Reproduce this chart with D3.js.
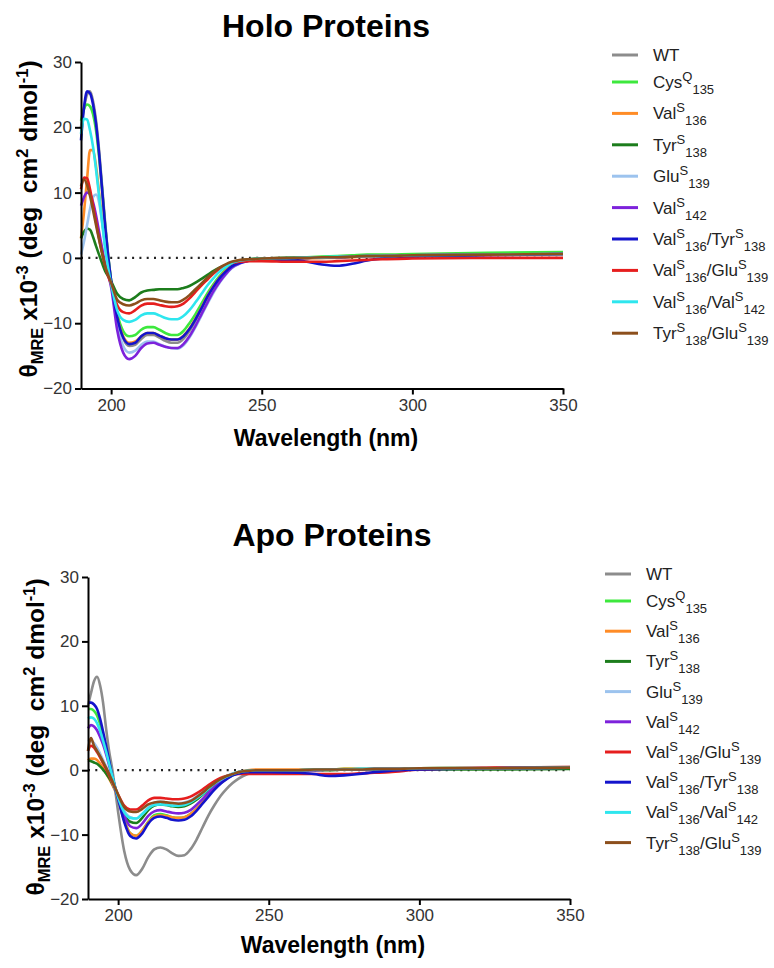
<!DOCTYPE html>
<html>
<head>
<meta charset="utf-8">
<script src="https://cdn.jsdelivr.net/npm/d3@7"></script>
<style>
  body { margin: 0; background: #fff; }
  text { font-family: "Liberation Sans", Arial, sans-serif; }
</style>
</head>
<body>
<div id="chart"></div>
<script>
// wavelengths (nm) where the curves were sampled
const wavelengths = [190, 191, 192, 193, 194, 195, 196, 197, 198, 199, 200,
  202, 204, 206, 208, 210, 212, 214, 216, 218, 220, 222, 224, 226, 228, 230,
  232, 234, 236, 238, 240, 243, 246, 250, 260, 265, 270, 275, 280, 285, 290,
  300, 325, 350];

const xTicks = [200, 250, 300, 350];
const yTicks = [-20, -10, 0, 10, 20, 30];

// holo proteins
const holoWT = [20, 23, 25, 25.5, 24, 21, 16.5, 11, 5.5, 0.5, -3.5, -9, -12.3, -13.5, -13.3, -12.4, -11.8, -11.8, -12.2, -12.7, -13, -13, -12.4, -11.2, -9.6, -7.8, -6, -4.4, -3.1, -2.1, -1.3, -0.6, -0.3, -0.2, -0.1, 0, 0, 0.1, 0.2, 0.2, 0.3, 0.4, 0.5, 0.7];
const holoCys135 = [21, 22.8, 23.5, 23.2, 22, 19.5, 15.5, 10.5, 5, 0.3, -3.5, -8.5, -11.2, -12, -11.8, -11, -10.6, -10.6, -11, -11.5, -11.8, -11.8, -11.2, -10, -8.6, -7, -5.4, -4, -2.8, -1.8, -1.1, -0.5, -0.2, -0.1, 0, 0.1, 0.2, 0.3, 0.4, 0.5, 0.5, 0.6, 0.8, 0.9];
const holoVal136 = [3, 7, 12, 16.5, 16.5, 14, 10, 6, 2, -1, -3.8, -9, -12, -13, -12.8, -12, -11.5, -11.5, -11.9, -12.3, -12.5, -12.5, -11.9, -10.8, -9.3, -7.6, -5.8, -4.3, -3, -2, -1.2, -0.6, -0.4, -0.3, -0.2, -0.1, 0, 0, 0.1, 0.2, 0.3, 0.4, 0.5, 0.6];
const holoTyr138 = [3, 4, 4.5, 4.3, 3.2, 1.8, 0.5, -0.8, -2, -2.8, -3.6, -5.5, -6.3, -6.5, -6, -5.3, -5, -4.9, -4.8, -4.8, -4.8, -4.8, -4.6, -4.3, -3.8, -3.2, -2.6, -2, -1.5, -1.1, -0.7, -0.4, -0.2, -0.1, 0, 0, 0.1, 0.1, 0.2, 0.3, 0.3, 0.4, 0.5, 0.6];
const holoGlu139 = [0.5, 2.5, 5, 7.5, 9.3, 9.7, 8.5, 5.5, 2, -1, -4, -10, -13.5, -14.5, -14.2, -13.3, -12.8, -12.8, -13.2, -13.6, -13.8, -13.9, -13.4, -12.2, -10.6, -8.8, -7, -5.3, -3.8, -2.6, -1.6, -0.8, -0.4, -0.2, -0.1, 0, 0.1, 0.1, 0.2, 0.3, 0.3, 0.4, 0.5, 0.6];
const holoVal142 = [8, 9.3, 10, 9.8, 8.5, 6.5, 4, 1.5, -0.8, -2.5, -4.5, -11, -14.5, -15.5, -15, -13.8, -13.1, -13, -13.3, -13.6, -13.8, -13.8, -13.2, -12, -10.4, -8.6, -6.8, -5.1, -3.7, -2.5, -1.5, -0.8, -0.4, -0.2, -0.1, 0, 0.1, 0.1, 0.2, 0.3, 0.3, 0.4, 0.5, 0.6];
const holoVal136Tyr138 = [18, 23, 25.5, 25.2, 23.5, 20.5, 16, 10.5, 5, 0.3, -3.5, -9, -12.2, -13.2, -13, -12, -11.5, -11.5, -11.9, -12.3, -12.5, -12.5, -12, -10.9, -9.4, -7.7, -5.9, -4.4, -3.1, -2.1, -1.3, -0.7, -0.4, -0.3, -0.3, -0.6, -1, -1.2, -0.9, -0.4, -0.1, 0.2, 0.4, 0.6];
const holoVal136Glu139 = [10.5, 12.3, 12.2, 10.5, 8, 5.5, 3, 0.8, -1.2, -2.8, -4, -7.2, -8.3, -8.5, -8, -7.3, -7, -7, -7.2, -7.4, -7.5, -7.4, -7, -6.2, -5.2, -4.2, -3.3, -2.4, -1.7, -1.2, -0.8, -0.6, -0.5, -0.5, -0.6, -0.6, -0.6, -0.5, -0.4, -0.3, -0.2, -0.1, 0, 0];
const holoVal136Val142 = [19, 21.3, 21.2, 19.5, 17, 13.5, 9.5, 5.5, 1.5, -1.5, -4, -8, -9.5, -9.8, -9.5, -8.8, -8.5, -8.5, -8.8, -9.2, -9.4, -9.4, -8.9, -8, -6.8, -5.5, -4.2, -3.1, -2.1, -1.4, -0.8, -0.4, -0.2, -0.1, 0, 0.1, 0.1, 0.2, 0.2, 0.3, 0.3, 0.4, 0.5, 0.6];
const holoTyr138Glu139 = [11, 12, 11.2, 9.5, 7.3, 5, 2.8, 0.7, -1.2, -2.6, -3.8, -6.4, -7.1, -7.3, -7, -6.5, -6.3, -6.3, -6.5, -6.7, -6.8, -6.8, -6.4, -5.7, -4.8, -3.9, -3, -2.2, -1.5, -1, -0.6, -0.3, -0.2, -0.1, 0, 0, 0.1, 0.1, 0.2, 0.3, 0.3, 0.4, 0.5, 0.6];

// apo proteins
const apoWT = [10, 12, 13.8, 14.5, 13.2, 10.5, 6.5, 3, 0.3, -3, -6.5, -12.5, -15.5, -16.3, -15.3, -13.5, -12.3, -12, -12.3, -12.9, -13.3, -13.2, -12.3, -10.8, -8.9, -7, -5.4, -4, -2.9, -2, -1.3, -0.6, -0.3, -0.1, 0, 0.1, 0.1, 0.1, 0.2, 0.2, 0.3, 0.3, 0.4, 0.5];
const apoCys135 = [9.5, 9.5, 9.2, 8.5, 7.2, 5.5, 3.5, 1.3, -0.8, -2.7, -4.3, -7.7, -9.8, -10.2, -9.4, -8, -7, -6.8, -7, -7.3, -7.4, -7.3, -6.8, -6, -5, -3.9, -2.9, -2, -1.3, -0.8, -0.4, -0.2, -0.1, 0, 0, 0.1, 0.1, 0.2, 0.2, 0.2, 0.3, 0.3, 0.4, 0.4];
const apoVal136 = [1.5, 1.8, 1.8, 1.6, 1, 0.3, -0.5, -1.3, -2.2, -3.2, -4.5, -7.8, -9.8, -10.2, -9.4, -8.1, -7.2, -7, -7.1, -7.3, -7.4, -7.3, -6.8, -6, -5, -3.9, -2.9, -2, -1.3, -0.7, -0.3, 0, 0.1, 0.1, 0.1, 0.1, 0.1, 0.2, 0.2, 0.2, 0.3, 0.3, 0.4, 0.4];
const apoTyr138 = [1.5, 1.4, 1.2, 1, 0.6, 0.1, -0.5, -1.2, -2, -3, -4.2, -6.8, -8, -8.2, -7.4, -6.2, -5.5, -5.3, -5.4, -5.6, -5.7, -5.6, -5.2, -4.6, -3.8, -3, -2.2, -1.5, -1, -0.6, -0.3, -0.1, 0, 0, 0, 0, 0, 0.1, 0.1, 0.1, 0.1, 0.1, 0.1, 0.2];
const apoGlu139 = [4.5, 4.6, 4.2, 3.5, 2.6, 1.6, 0.6, -0.6, -1.8, -3, -4.2, -6.3, -7.3, -7.5, -6.8, -5.8, -5.1, -4.9, -5, -5.1, -5.1, -5, -4.7, -4.1, -3.4, -2.7, -2, -1.4, -0.9, -0.5, -0.3, -0.1, 0, 0, 0, 0.1, 0.1, 0.1, 0.2, 0.2, 0.2, 0.3, 0.4, 0.4];
const apoVal142 = [6.5, 7, 6.8, 6.2, 5.2, 4, 2.5, 0.8, -0.9, -2.6, -4.2, -7, -8.7, -9, -8.3, -7.1, -6.4, -6.2, -6.4, -6.6, -6.7, -6.6, -6.2, -5.4, -4.5, -3.5, -2.6, -1.8, -1.2, -0.7, -0.4, -0.2, -0.1, 0, 0, 0, 0.1, 0.1, 0.1, 0.2, 0.2, 0.3, 0.3, 0.4];
const apoVal136Glu139 = [3, 3.8, 3.5, 2.8, 2, 1.1, 0.2, -0.8, -1.8, -2.8, -3.8, -5.5, -6.1, -6.1, -5.5, -4.7, -4.3, -4.3, -4.4, -4.5, -4.5, -4.4, -4.1, -3.6, -3, -2.3, -1.7, -1.2, -0.9, -0.7, -0.6, -0.6, -0.6, -0.6, -0.6, -0.6, -0.6, -0.6, -0.5, -0.4, -0.3, 0.1, 0.4, 0.5];
const apoVal136Tyr138 = [10.5, 10.5, 10.2, 9.5, 8, 6, 3.8, 1.5, -0.8, -2.8, -4.5, -8, -10.2, -10.6, -9.8, -8.3, -7.4, -7.2, -7.4, -7.7, -7.8, -7.7, -7.2, -6.3, -5.2, -4.1, -3, -2.1, -1.4, -0.8, -0.5, -0.3, -0.3, -0.3, -0.4, -0.6, -0.9, -0.8, -0.6, -0.3, -0.1, 0.1, 0.3, 0.4];
const apoVal136Val142 = [8, 8.2, 8, 7.3, 6.1, 4.6, 2.9, 1, -0.8, -2.6, -4.2, -6.5, -7.4, -7.5, -6.8, -5.9, -5.4, -5.3, -5.4, -5.5, -5.5, -5.4, -5, -4.4, -3.7, -2.9, -2.1, -1.5, -1, -0.6, -0.3, -0.1, 0, 0, 0, 0.1, 0.1, 0.1, 0.2, 0.2, 0.2, 0.3, 0.3, 0.4];
const apoTyr138Glu139 = [3, 5, 3.8, 3, 2.2, 1.3, 0.4, -0.6, -1.6, -2.7, -3.8, -5.7, -6.4, -6.5, -6, -5.3, -5, -4.9, -5, -5.1, -5.2, -5.1, -4.8, -4.2, -3.5, -2.7, -2, -1.4, -0.9, -0.6, -0.3, -0.1, 0, 0, 0, 0.1, 0.1, 0.1, 0.1, 0.2, 0.2, 0.3, 0.3, 0.4];

// legend labels: ^{..} = superscript, _{..} = subscript
const holoLabels = ["WT", "Cys^{Q}_{135}", "Val^{S}_{136}", "Tyr^{S}_{138}", "Glu^{S}_{139}", "Val^{S}_{142}",
  "Val^{S}_{136}/Tyr^{S}_{138}", "Val^{S}_{136}/Glu^{S}_{139}", "Val^{S}_{136}/Val^{S}_{142}", "Tyr^{S}_{138}/Glu^{S}_{139}"];
const apoLabels = ["WT", "Cys^{Q}_{135}", "Val^{S}_{136}", "Tyr^{S}_{138}", "Glu^{S}_{139}", "Val^{S}_{142}",
  "Val^{S}_{136}/Glu^{S}_{139}", "Val^{S}_{136}/Tyr^{S}_{138}", "Val^{S}_{136}/Val^{S}_{142}", "Tyr^{S}_{138}/Glu^{S}_{139}"];

const holoSeries = [holoWT, holoCys135, holoVal136, holoTyr138, holoGlu139, holoVal142,
  holoVal136Tyr138, holoVal136Glu139, holoVal136Val142, holoTyr138Glu139];
const apoSeries = [apoWT, apoCys135, apoVal136, apoTyr138, apoGlu139, apoVal142,
  apoVal136Glu139, apoVal136Tyr138, apoVal136Val142, apoTyr138Glu139];

const holoColors = ["#8c8c8c", "#3de83d", "#ff8c26", "#1c7d1c", "#9cc3ee", "#7d22db",
  "#1414cc", "#e61e1e", "#2ee6ee", "#8c4f1c"];
const apoColors = ["#8c8c8c", "#3de83d", "#ff8c26", "#1c7d1c", "#9cc3ee", "#7d22db",
  "#e61e1e", "#1414cc", "#2ee6ee", "#8c4f1c"];

const svg = d3.select("#chart").append("svg")
  .attr("width", 774)
  .attr("height", 968);

// turn "Val^{S}_{136}" into tspans shifted up / down
function richText(sel, label, size, smallSize, supShift, subShift) {
  let parts = label.split(/(\^\{[^}]*\}|_\{[^}]*\})/).filter(p => p.length);
  let cur = 0;
  parts.forEach(p => {
    let mode = "n", txt = p;
    if (p[0] == "^") { mode = "sup"; txt = p.slice(2, -1); }
    else if (p[0] == "_") { mode = "sub"; txt = p.slice(2, -1); }
    let target = mode == "sup" ? -supShift : mode == "sub" ? subShift : 0;
    sel.append("tspan")
      .attr("dy", target - cur)
      .attr("font-size", mode == "n" ? size : smallSize)
      .text(txt);
    cur = target;
  });
}

function drawPanel(cfg) {
  const x = d3.scaleLinear().domain([190, 350]).range([cfg.left, cfg.right]);
  const y = d3.scaleLinear().domain([-20, 30]).range([cfg.bottom, cfg.top]);

  const g = svg.append("g");

  g.append("text")
    .attr("x", cfg.titleX)
    .attr("y", cfg.titleY)
    .attr("text-anchor", "middle")
    .attr("font-size", 32)
    .attr("font-weight", "bold")
    .text(cfg.title);

  // zero line
  g.append("line")
    .attr("x1", x(190)).attr("x2", x(350))
    .attr("y1", y(0)).attr("y2", y(0))
    .attr("stroke", "#222")
    .attr("stroke-width", 2.2)
    .attr("stroke-dasharray", "2,5.3");

  const line = d3.line()
    .x((d, i) => x(wavelengths[i]))
    .y(d => y(d))
    .curve(d3.curveMonotoneX);

  g.selectAll(".curve")
    .data(cfg.series)
    .enter()
    .append("path")
    .attr("class", "curve")
    .attr("d", d => line(d))
    .attr("fill", "none")
    .attr("stroke", (d, i) => cfg.colors[i])
    .attr("stroke-width", 2.6)
    .attr("stroke-linejoin", "round");

  const xAxis = g.append("g")
    .attr("transform", "translate(0," + cfg.bottom + ")")
    .call(d3.axisBottom(x).tickValues(xTicks).tickSize(6).tickSizeOuter(0).tickPadding(4));

  const yAxis = g.append("g")
    .attr("transform", "translate(" + cfg.left + ",0)")
    .call(d3.axisLeft(y).tickValues(yTicks).tickSize(6).tickSizeOuter(0).tickPadding(3));

  [xAxis, yAxis].forEach(a => {
    a.select(".domain").attr("stroke", "#000").attr("stroke-width", 2);
    a.selectAll(".tick line").attr("stroke", "#000").attr("stroke-width", 2);
    a.selectAll(".tick text")
      .attr("font-size", 17)
      .attr("fill", "#333")
      .attr("font-family", "Liberation Sans, Arial, sans-serif");
  });

  g.append("text")
    .attr("x", (cfg.left + cfg.right) / 2 + 4)
    .attr("y", cfg.xLabelY)
    .attr("text-anchor", "middle")
    .attr("font-size", 23)
    .attr("font-weight", "bold")
    .text("Wavelength (nm)");

  const yl = g.append("text")
    .attr("transform", "translate(" + cfg.yLabelX + "," + cfg.yLabelY + ") rotate(-90)")
    .attr("text-anchor", "middle")
    .attr("font-size", 24.5)
    .attr("font-weight", "bold")
    .style("white-space", "pre");
  richText(yl, "θ_{MRE} x10^{-3} (deg  cm^{2} dmol^{-1})", 24.5, 16.5, 9, 6);

  // legend
  const lg = g.append("g");
  cfg.labels.forEach((lab, i) => {
    const ly = i == 0 ? cfg.legY - 27 : cfg.legY + (i - 1) * cfg.legStep;
    lg.append("line")
      .attr("x1", cfg.legX).attr("x2", cfg.legX + 26)
      .attr("y1", ly).attr("y2", ly)
      .attr("stroke", cfg.colors[i])
      .attr("stroke-width", 3);
    const t = lg.append("text")
      .attr("x", cfg.legX + 41)
      .attr("y", ly + 6)
      .attr("fill", "#222")
      .attr("font-size", 17);
    richText(t, lab, 17, 13, 7, 6);
  });
}

drawPanel({
  title: "Holo Proteins", titleX: 326, titleY: 37,
  left: 81, right: 563, top: 62, bottom: 388.5,
  xLabelY: 446, yLabelX: 37, yLabelY: 219,
  series: holoSeries, colors: holoColors, labels: holoLabels,
  legX: 612, legY: 82, legStep: 31.4
});

drawPanel({
  title: "Apo Proteins", titleX: 332, titleY: 546,
  left: 88, right: 570, top: 577, bottom: 899,
  xLabelY: 953, yLabelX: 44, yLabelY: 737,
  series: apoSeries, colors: apoColors, labels: apoLabels,
  legX: 605, legY: 601, legStep: 30.2
});
</script>
</body>
</html>
